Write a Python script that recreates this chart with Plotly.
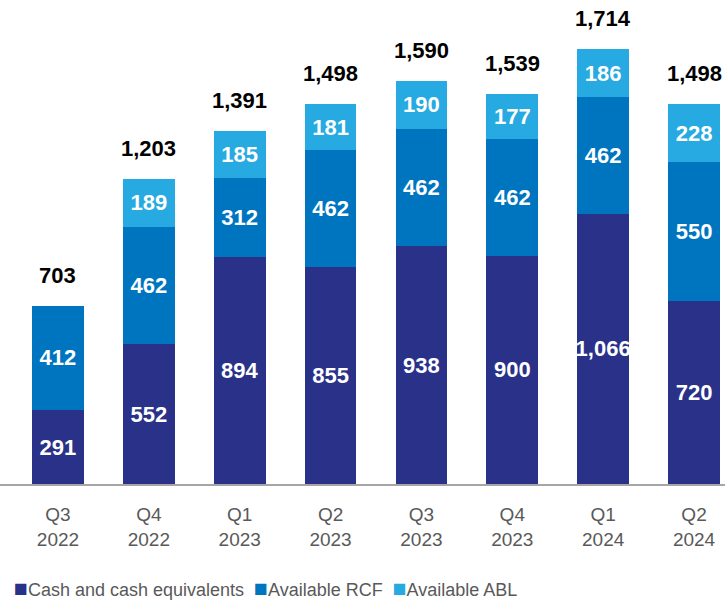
import plotly.graph_objects as go

quarters = ["Q3<br>2022", "Q4<br>2022", "Q1<br>2023", "Q2<br>2023",
            "Q3<br>2023", "Q4<br>2023", "Q1<br>2024", "Q2<br>2024"]
cash = [291, 552, 894, 855, 938, 900, 1066, 720]
rcf = [412, 462, 312, 462, 462, 462, 462, 550]
abl = [None, 189, 185, 181, 190, 177, 186, 228]
totals = [703, 1203, 1391, 1498, 1590, 1539, 1714, 1498]

series_names = ["Cash and cash equivalents", "Available RCF", "Available ABL"]
series_values = [cash, rcf, abl]
series_colors = ["#293189", "#0075BF", "#27AAE1"]

label_font = "Liberation Sans, Arial, sans-serif"
axis_gray = "#595959"

fig = go.Figure()
for name, vals, color in zip(series_names, series_values, series_colors):
    fig.add_trace(go.Bar(
        x=quarters, y=vals, name=name,
        marker=dict(color=color, line=dict(width=0)),
        width=0.57,
        texttemplate="<b>%{y:,.0f}</b>",
        textposition="inside",
        insidetextanchor="middle",
        textangle=0,
        textfont=dict(family=label_font, size=22, color="white"),
        cliponaxis=False,
        showlegend=False,
    ))

# stack totals above each column
for q, t in zip(quarters, totals):
    fig.add_annotation(
        x=q, y=t, text=f"<b>{t:,}</b>", showarrow=False,
        yanchor="bottom", yshift=16,
        font=dict(family=label_font, size=22, color="black"),
    )

# legend row along the bottom
legend_text = "  ".join(
    f'<span style="color:{c};font-size:23px">■</span>{n}'
    for n, c in zip(series_names, series_colors)
)
fig.add_annotation(
    xref="paper", yref="paper", x=12 / 725, y=-0.2149,
    xanchor="left", yanchor="middle", showarrow=False,
    text=legend_text,
    font=dict(family=label_font, size=18, color=axis_gray),
)

fig.update_layout(
    barmode="stack",
    width=725, height=601,
    margin=dict(l=0, r=0, t=0, b=117),
    plot_bgcolor="white", paper_bgcolor="white",
    uniformtext=dict(minsize=22, mode="show"),
    showlegend=False,
    xaxis=dict(
        type="category", range=[-0.638, 7.341], automargin=False,
        showline=True, linecolor="#A6A6A6", linewidth=2,
        ticks="", showgrid=False, ticklabelstandoff=12,
        tickfont=dict(family=label_font, size=19, color=axis_gray),
    ),
    yaxis=dict(range=[0, 1909], visible=False, showgrid=False, automargin=False),
)

fig.write_html("out.html")
